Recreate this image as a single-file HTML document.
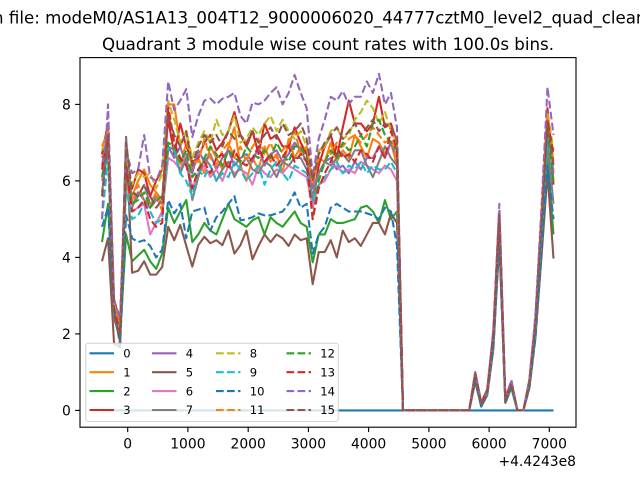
<!DOCTYPE html>
<html><head><meta charset="utf-8"><style>
html,body{margin:0;padding:0;background:#fff;}
svg{display:block;font-family:"DejaVu Sans","Liberation Sans",sans-serif;}
</style></head><body>
<svg width="640" height="480" viewBox="0 0 640 480" xmlns="http://www.w3.org/2000/svg">
<rect x="0" y="0" width="640" height="480" fill="#fff"/>
<text x="-7" y="23.3" font-size="16.67" fill="#000">n file: modeM0/AS1A13_004T12_9000006020_44777cztM0_level2_quad_clean.evt</text>
<text x="328" y="50" font-size="16.67" text-anchor="middle" fill="#000">Quadrant 3 module wise count rates with 100.0s bins.</text>
<rect x="80" y="57.6" width="496" height="369.6" fill="#fff"/>
<g transform="translate(102,410.4) scale(6.02,-38.25)" fill="none" stroke-width="2.08" stroke-linejoin="round">
<polyline vector-effect="non-scaling-stroke" stroke="#1f77b4" points="0,0 75,0"/>
<polyline vector-effect="non-scaling-stroke" stroke="#ff7f0e" points="0,6.6 1,7.4 2,2.8 3,2.1 4,6.0 5,5.6 6,6.0 7,6.3 8,5.9 9,5.7 10,5.5 11,8.0 12,8.0 13,6.9 14,7.3 15,6.3 16,6.6 17,6.2 18,6.9 19,6.6 20,6.3 21,6.9 22,7.4 23,6.4 24,6.0 25,6.6 26,6.3 27,6.9 28,6.5 29,6.7 30,6.2 31,7.1 32,6.6 33,6.9 34,6.8 35,5.9 36,6.6 37,6.5 38,7.0 39,6.5 40,6.8 41,6.6 42,7.2 43,6.9 44,6.6 45,7.1 46,7.0 47,6.7 48,7.0 49,6.4 50,0 61,0 62,0.95 63,0.2 64,0.5 65,2.0 66,5.1 67,0.3 68,0.75 69,0 70,0 71,0.8 72,2.3 73,5.0 74,7.6 75,6.5"/>
<polyline vector-effect="non-scaling-stroke" stroke="#2ca02c" points="0,4.4 1,5.4 2,2.6 3,1.9 4,4.6 5,3.9 6,4.05 7,4.2 8,3.9 9,3.7 10,4.1 11,5.3 12,4.9 13,5.2 14,5.5 15,4.4 16,4.6 17,4.9 18,4.7 19,4.6 20,5.0 21,5.4 22,5.0 23,4.9 24,4.8 25,4.97 26,5.05 27,4.6 28,5.05 29,4.9 30,4.8 31,5.0 32,5.2 33,4.9 34,4.8 35,3.87 36,4.6 37,4.6 38,5.0 39,4.9 40,4.9 41,4.95 42,5.0 43,5.3 44,5.35 45,5.2 46,4.9 47,5.5 48,5.0 49,5.2 50,0 61,0 62,0.8 63,0.1 64,0.45 65,1.7 66,4.6 67,0.2 68,0.6 69,0 70,0 71,0.6 72,2.0 73,4.3 74,6.6 75,4.6"/>
<polyline vector-effect="non-scaling-stroke" stroke="#d62728" points="0,6.7 1,7.5 2,2.9 3,2.3 4,6.1 5,5.8 6,6.3 7,6.2 8,5.6 9,6.0 10,6.3 11,7.6 12,6.7 13,7.5 14,6.9 15,6.5 16,6.6 17,7.0 18,7.2 19,6.8 20,7.0 21,7.3 22,7.8 23,7.2 24,6.9 25,7.3 26,6.7 27,7.5 28,7.1 29,7.2 30,6.9 31,6.9 32,7.4 33,7.0 34,6.7 35,5.4 36,6.4 37,6.9 38,7.2 39,6.6 40,7.4 41,8.1 42,7.5 43,7.5 44,7.3 45,7.5 46,8.2 47,7.4 48,7.5 49,7.0 50,0 61,0 62,1.0 63,0.2 64,0.55 65,2.0 66,5.2 67,0.3 68,0.75 69,0 70,0 71,0.8 72,2.4 73,5.1 74,7.9 75,5.9"/>
<polyline vector-effect="non-scaling-stroke" stroke="#9467bd" points="0,6.4 1,7.3 2,2.7 3,2.2 4,6.5 5,5.3 6,5.7 7,5.5 8,5.3 9,5.6 10,5.4 11,6.9 12,6.6 13,6.9 14,6.4 15,6.2 16,6.8 17,6.5 18,6.7 19,6.3 20,6.6 21,6.8 22,6.4 23,6.6 24,6.7 25,6.5 26,6.9 27,6.4 28,6.7 29,6.8 30,6.5 31,6.7 32,7.0 33,6.8 34,6.5 35,5.8 36,6.2 37,6.5 38,6.6 39,6.3 40,6.4 41,6.2 42,6.5 43,6.3 44,6.6 45,6.6 46,6.9 47,6.6 48,7.0 49,6.6 50,0 61,0 62,0.95 63,0.15 64,0.5 65,1.9 66,5.2 67,0.25 68,0.7 69,0 70,0 71,0.7 72,2.3 73,4.9 74,7.7 75,6.2"/>
<polyline vector-effect="non-scaling-stroke" stroke="#8c564b" points="0,3.9 1,4.5 2,1.75 3,1.65 4,7.15 5,3.6 6,3.65 7,3.9 8,3.55 9,3.55 10,3.75 11,4.8 12,4.45 13,4.85 14,4.3 15,3.76 16,4.32 17,4.54 18,4.37 19,4.45 20,4.32 21,4.7 22,4.1 23,4.32 24,4.7 25,3.95 26,4.3 27,4.6 28,4.4 29,4.6 30,4.5 31,4.3 32,4.6 33,4.45 34,4.5 35,3.3 36,4.14 37,4.14 38,4.45 39,4.0 40,4.7 41,4.4 42,4.5 43,4.3 44,4.6 45,4.9 46,4.9 47,4.6 48,5.15 49,4.9 50,0 61,0 62,0.75 63,0.1 64,0.4 65,1.6 66,4.4 67,0.2 68,0.6 69,0 70,0 71,0.6 72,1.9 73,4.0 74,6.2 75,3.97"/>
<polyline vector-effect="non-scaling-stroke" stroke="#e377c2" points="0,6.0 1,7.0 2,2.5 3,2.0 4,6.2 5,5.2 6,5.3 7,5.4 8,4.6 9,4.9 10,5.2 11,6.6 12,6.5 13,6.3 14,6.7 15,5.8 16,6.2 17,6.4 18,6.1 19,6.3 20,6.0 21,6.4 22,6.2 23,6.3 24,6.2 25,5.9 26,6.4 27,6.2 28,6.1 29,6.3 30,6.2 31,6.4 32,6.3 33,6.2 34,6.1 35,5.3 36,5.9 37,6.0 38,6.3 39,6.4 40,6.2 41,6.3 42,6.2 43,6.5 44,6.4 45,6.3 46,6.2 47,6.4 48,6.3 49,6.0 50,0 61,0 62,0.9 63,0.15 64,0.5 65,1.8 66,4.9 67,0.25 68,0.7 69,0 70,0 71,0.7 72,2.1 73,4.6 74,7.2 75,6.3"/>
<polyline vector-effect="non-scaling-stroke" stroke="#7f7f7f" points="0,5.7 1,6.9 2,2.4 3,1.9 4,7.1 5,5.4 6,5.6 7,5.9 8,5.4 9,5.5 10,5.4 11,6.8 12,6.9 13,6.2 14,6.6 15,5.5 16,6.1 17,6.6 18,6.4 19,6.0 20,6.3 21,6.5 22,6.1 23,6.4 24,6.6 25,6.3 26,6.2 27,6.5 28,6.4 29,6.1 30,6.5 31,6.4 32,6.6 33,6.6 34,6.3 35,5.6 36,6.2 37,6.5 38,6.4 39,6.6 40,6.7 41,6.5 42,6.8 43,6.8 44,6.4 45,6.1 46,6.5 47,6.9 48,6.6 49,6.4 50,0 61,0 62,0.9 63,0.15 64,0.5 65,1.9 66,5.0 67,0.25 68,0.7 69,0 70,0 71,0.7 72,2.2 73,4.6 74,7.0 75,5.4"/>
<g stroke-dasharray="7.7,3.33">
<polyline vector-effect="non-scaling-stroke" stroke="#bcbd22" points="0,6.8 1,7.3 2,2.8 3,2.2 4,6.6 5,5.9 6,6.2 7,6.1 8,6.2 9,5.8 10,6.2 11,8.1 12,7.6 13,7.0 14,7.3 15,6.6 16,7.0 17,7.3 18,7.0 19,7.6 20,7.2 21,7.3 22,7.7 23,7.0 24,7.1 25,7.4 26,7.2 27,7.5 28,7.7 29,7.3 30,7.6 31,7.3 32,7.1 33,7.3 34,6.9 35,6.1 36,6.8 37,6.9 38,7.3 39,7.4 40,7.1 41,7.2 42,7.6 43,7.8 44,8.1 45,7.9 46,7.5 47,7.8 48,7.3 49,7.0 50,0 61,0 62,0.95 63,0.2 64,0.55 65,2.0 66,5.1 67,0.3 68,0.7 69,0 70,0 71,0.75 72,2.3 73,5.0 74,7.8 75,6.8"/>
<polyline vector-effect="non-scaling-stroke" stroke="#17becf" points="0,5.0 1,6.6 2,2.5 3,1.9 4,5.8 5,5.0 6,5.1 7,5.4 8,5.2 9,4.9 10,5.0 11,6.9 12,6.8 13,6.2 14,6.0 15,5.6 16,6.3 17,6.1 18,6.4 19,6.0 20,6.2 21,6.1 22,6.5 23,6.3 24,6.0 25,6.2 26,6.4 27,5.9 28,6.3 29,6.5 30,6.2 31,6.0 32,6.4 33,6.3 34,6.2 35,5.5 36,5.9 37,6.1 38,6.3 39,6.5 40,6.2 41,6.4 42,6.3 43,6.5 44,6.2 45,6.4 46,6.3 47,6.3 48,6.5 49,6.2 50,0 61,0 62,0.85 63,0.15 64,0.45 65,1.8 66,4.8 67,0.25 68,0.65 69,0 70,0 71,0.7 72,2.1 73,4.5 74,7.1 75,6.4"/>
<polyline vector-effect="non-scaling-stroke" stroke="#1f77b4" points="0,4.8 1,5.3 2,2.7 3,1.7 4,5.1 5,4.5 6,4.4 7,4.45 8,4.3 9,4.0 10,4.2 11,5.5 12,5.15 13,5.4 14,4.5 15,5.2 16,5.25 17,5.3 18,4.7 19,5.05 20,5.2 21,5.4 22,5.6 23,4.97 24,5.0 25,5.05 26,5.15 27,5.1 28,5.1 29,5.15 30,5.2 31,5.4 32,5.7 33,5.3 34,5.4 35,4.1 36,4.6 37,4.8 38,5.3 39,5.4 40,5.3 41,5.2 42,5.2 43,5.2 44,5.15 45,5.1 46,5.0 47,5.3 48,5.2 49,4.3 50,0 61,0 62,0.8 63,0.1 64,0.45 65,1.6 66,4.5 67,0.2 68,0.6 69,0 70,0 71,0.6 72,1.9 73,4.2 74,6.4 75,5.0"/>
<polyline vector-effect="non-scaling-stroke" stroke="#ff7f0e" points="0,6.9 1,7.3 2,2.8 3,2.2 4,6.0 5,5.4 6,5.9 7,5.5 8,5.4 9,5.7 10,5.2 11,8.0 12,7.0 13,6.4 14,7.0 15,6.5 16,6.5 17,7.1 18,6.6 19,6.4 20,6.8 21,7.0 22,6.6 23,6.9 24,6.5 25,6.9 26,7.1 27,6.7 28,7.0 29,6.6 30,6.8 31,7.0 32,7.3 33,6.7 34,6.9 35,5.9 36,6.7 37,6.9 38,6.7 39,7.0 40,6.9 41,7.1 42,7.2 43,7.0 44,7.2 45,7.4 46,7.2 47,7.0 48,7.1 49,6.6 50,0 61,0 62,0.95 63,0.2 64,0.5 65,2.0 66,5.2 67,0.3 68,0.75 69,0 70,0 71,0.8 72,2.3 73,5.0 74,7.7 75,6.5"/>
<polyline vector-effect="non-scaling-stroke" stroke="#2ca02c" points="0,6.1 1,7.0 2,2.7 3,2.0 4,6.2 5,5.4 6,5.5 7,5.7 8,5.3 9,5.5 10,5.6 11,7.0 12,6.9 13,6.5 14,6.8 15,6.1 16,6.3 17,6.6 18,6.9 19,6.7 20,6.4 21,6.8 22,6.6 23,6.5 24,6.9 25,6.7 26,6.6 27,6.8 28,6.6 29,7.0 30,6.7 31,6.5 32,6.9 33,6.9 34,6.6 35,5.0 36,6.0 37,6.5 38,6.8 39,6.6 40,7.0 41,6.8 42,6.9 43,7.2 44,6.9 45,7.5 46,7.6 47,7.2 48,7.0 49,6.8 50,0 61,0 62,0.9 63,0.15 64,0.5 65,1.9 66,5.0 67,0.25 68,0.7 69,0 70,0 71,0.7 72,2.2 73,4.8 74,7.4 75,6.0"/>
<polyline vector-effect="non-scaling-stroke" stroke="#d62728" points="0,6.3 1,7.1 2,2.6 3,2.1 4,6.4 5,5.2 6,5.3 7,5.5 8,5.0 9,4.8 10,4.9 11,7.9 12,7.0 13,6.6 14,6.4 15,5.8 16,6.3 17,6.5 18,6.2 19,6.6 20,6.7 21,6.3 22,6.8 23,6.5 24,6.4 25,6.6 26,6.9 27,6.5 28,6.7 29,6.4 30,6.6 31,6.9 32,6.5 33,6.7 34,6.5 35,5.0 36,5.8 37,6.2 38,6.5 39,6.9 40,6.6 41,6.7 42,6.5 43,6.8 44,6.7 45,6.5 46,6.9 47,6.6 48,7.3 49,6.8 50,0 61,0 62,0.95 63,0.2 64,0.55 65,2.0 66,5.1 67,0.3 68,0.75 69,0 70,0 71,0.75 72,2.3 73,5.0 74,7.6 75,6.7"/>
<polyline vector-effect="non-scaling-stroke" stroke="#9467bd" points="0,5.0 1,8.0 2,2.9 3,2.4 4,6.8 5,6.2 6,6.3 7,7.2 8,6.1 9,6.0 10,6.4 11,8.6 12,7.85 13,8.1 14,8.4 15,7.15 16,7.7 17,8.1 18,8.15 19,8.0 20,8.15 21,8.2 22,8.3 23,7.7 24,7.5 25,8.05 26,8.0 27,8.1 28,8.3 29,8.45 30,8.0 31,8.3 32,8.77 33,8.3 34,7.9 35,6.1 36,7.1 37,7.6 38,8.2 39,8.1 40,8.35 41,8.0 42,8.2 43,8.2 44,8.6 45,8.3 46,8.8 47,8.0 48,8.3 49,7.4 50,0 61,0 62,1.0 63,0.2 64,0.55 65,2.1 66,5.4 67,0.3 68,0.8 69,0 70,0 71,0.8 72,2.5 73,5.3 74,8.45 75,7.2"/>
<polyline vector-effect="non-scaling-stroke" stroke="#8c564b" points="0,5.6 1,7.2 2,2.5 3,1.8 4,7.0 5,5.7 6,5.6 7,5.9 8,5.6 9,5.3 10,5.5 11,7.7 12,7.2 13,6.9 14,7.3 15,6.4 16,6.9 17,7.2 18,7.0 19,7.2 20,6.9 21,7.3 22,7.1 23,7.2 24,7.0 25,7.3 26,7.0 27,7.2 28,7.4 29,7.1 30,7.5 31,7.2 32,7.3 33,7.5 34,7.1 35,6.0 36,6.7 37,7.0 38,7.2 39,7.4 40,7.1 41,7.3 42,7.5 43,7.2 44,7.4 45,7.6 46,7.3 47,7.5 48,7.4 49,7.1 50,0 61,0 62,0.95 63,0.15 64,0.5 65,1.95 66,5.1 67,0.25 68,0.7 69,0 70,0 71,0.75 72,2.3 73,4.9 74,7.5 75,6.4"/>
</g>
</g>
<rect x="80" y="57.6" width="496" height="369.6" fill="none" stroke="#000" stroke-width="1.11"/>
<g stroke="#000" stroke-width="1.11">
<line x1="127.7" y1="427.2" x2="127.7" y2="432.1"/>
<line x1="187.9" y1="427.2" x2="187.9" y2="432.1"/>
<line x1="248.2" y1="427.2" x2="248.2" y2="432.1"/>
<line x1="308.4" y1="427.2" x2="308.4" y2="432.1"/>
<line x1="368.6" y1="427.2" x2="368.6" y2="432.1"/>
<line x1="428.9" y1="427.2" x2="428.9" y2="432.1"/>
<line x1="489.1" y1="427.2" x2="489.1" y2="432.1"/>
<line x1="549.3" y1="427.2" x2="549.3" y2="432.1"/>
<line x1="75.1" y1="410.4" x2="80" y2="410.4"/>
<line x1="75.1" y1="333.9" x2="80" y2="333.9"/>
<line x1="75.1" y1="257.4" x2="80" y2="257.4"/>
<line x1="75.1" y1="180.9" x2="80" y2="180.9"/>
<line x1="75.1" y1="104.4" x2="80" y2="104.4"/>
</g>
<g font-size="13.89" fill="#000" text-anchor="middle">
<text x="127.7" y="448.3">0</text>
<text x="187.9" y="448.3">1000</text>
<text x="248.2" y="448.3">2000</text>
<text x="308.4" y="448.3">3000</text>
<text x="368.6" y="448.3">4000</text>
<text x="428.9" y="448.3">5000</text>
<text x="489.1" y="448.3">6000</text>
<text x="549.3" y="448.3">7000</text>
</g>
<text x="576" y="466" font-size="13.89" text-anchor="end" fill="#000">+4.4243e8</text>
<g font-size="13.89" fill="#000" text-anchor="end">
<text x="70.8" y="415.4">0</text>
<text x="70.8" y="338.9">2</text>
<text x="70.8" y="262.4">4</text>
<text x="70.8" y="185.9">6</text>
<text x="70.8" y="109.4">8</text>
</g>
<rect x="85.8" y="343.3" width="252.5" height="78.1" rx="2.3" ry="2.3" fill="#fff" fill-opacity="0.8" stroke="#cccccc" stroke-opacity="0.8" stroke-width="1.11"/>
<g stroke-width="2.08" fill="none">
<line x1="89.5" y1="353.3" x2="114" y2="353.3" stroke="#1f77b4"/>
<line x1="89.5" y1="372.2" x2="114" y2="372.2" stroke="#ff7f0e"/>
<line x1="89.5" y1="391.1" x2="114" y2="391.1" stroke="#2ca02c"/>
<line x1="89.5" y1="410" x2="114" y2="410" stroke="#d62728"/>
<line x1="152" y1="353.3" x2="176.5" y2="353.3" stroke="#9467bd"/>
<line x1="152" y1="372.2" x2="176.5" y2="372.2" stroke="#8c564b"/>
<line x1="152" y1="391.1" x2="176.5" y2="391.1" stroke="#e377c2"/>
<line x1="152" y1="410" x2="176.5" y2="410" stroke="#7f7f7f"/>
<g stroke-dasharray="7.7,3.33">
<line x1="216" y1="353.3" x2="240.5" y2="353.3" stroke="#bcbd22"/>
<line x1="216" y1="372.2" x2="240.5" y2="372.2" stroke="#17becf"/>
<line x1="216" y1="391.1" x2="240.5" y2="391.1" stroke="#1f77b4"/>
<line x1="216" y1="410" x2="240.5" y2="410" stroke="#ff7f0e"/>
<line x1="286.5" y1="353.3" x2="311" y2="353.3" stroke="#2ca02c"/>
<line x1="286.5" y1="372.2" x2="311" y2="372.2" stroke="#d62728"/>
<line x1="286.5" y1="391.1" x2="311" y2="391.1" stroke="#9467bd"/>
<line x1="286.5" y1="410" x2="311" y2="410" stroke="#8c564b"/>
</g>
</g>
<g font-size="11.58" fill="#000">
<text x="123.3" y="357.5">0</text>
<text x="123.3" y="376.4">1</text>
<text x="123.3" y="395.3">2</text>
<text x="123.3" y="414.2">3</text>
<text x="185.8" y="357.5">4</text>
<text x="185.8" y="376.4">5</text>
<text x="185.8" y="395.3">6</text>
<text x="185.8" y="414.2">7</text>
<text x="249.8" y="357.5">8</text>
<text x="249.8" y="376.4">9</text>
<text x="249.8" y="395.3">10</text>
<text x="249.8" y="414.2">11</text>
<text x="320.3" y="357.5">12</text>
<text x="320.3" y="376.4">13</text>
<text x="320.3" y="395.3">14</text>
<text x="320.3" y="414.2">15</text>
</g>
</svg>
</body></html>
